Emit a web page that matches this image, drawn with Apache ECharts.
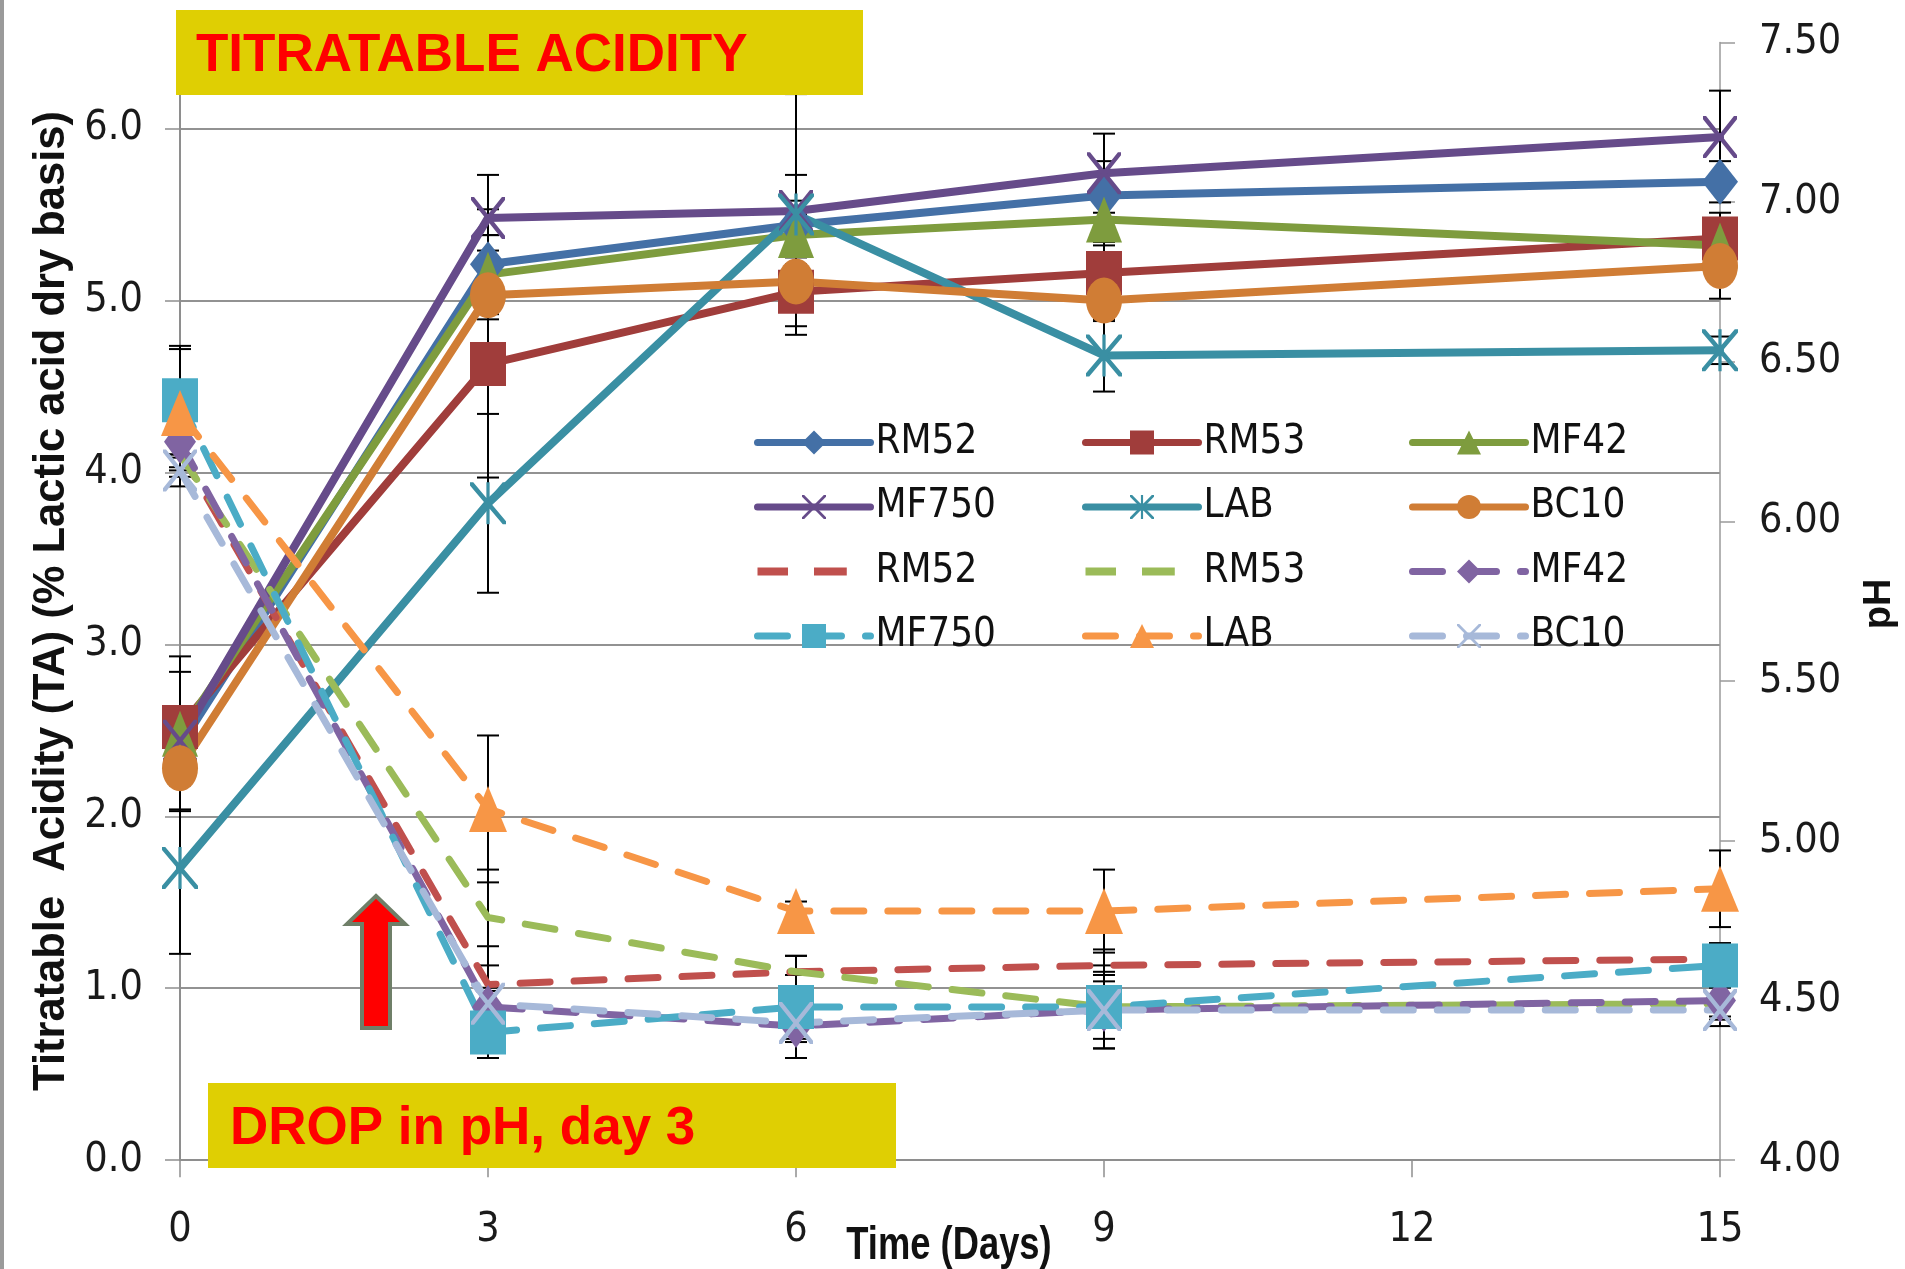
<!DOCTYPE html>
<html><head><meta charset="utf-8">
<script src="https://cdn.jsdelivr.net/npm/echarts@6/dist/echarts.min.js"></script>
<style>html,body{margin:0;padding:0;background:#fff}#c{width:1905px;height:1269px}</style>
</head><body><div id="c"></div>
<script>
// ---- data ----
const days = [0, 3, 6, 9, 15];
// Titratable acidity (% lactic acid, dry basis) - left axis
const taRM52  = [2.41, 5.21, 5.44, 5.61, 5.69];
const taRM53  = [2.52, 4.63, 5.05, 5.16, 5.36];
const taMF42  = [2.48, 5.15, 5.38, 5.47, 5.32];
const taMF750 = [2.44, 5.48, 5.52, 5.74, 5.95];
const taLAB   = [1.70, 3.82, 5.50, 4.68, 4.71];
const taBC10  = [2.28, 5.03, 5.11, 5.00, 5.20];
const taErrRM52  = [0.12, 0.32, 0.14, 0.20, 0.12];
const taErrRM53  = [0.12, 0.66, 0.20, 0.18, 0.15];
const taErrMF42  = [0.45, 0.23, 0.12, 0.15, 0.12];
const taErrMF750 = [0.40, 0.25, 0.21, 0.23, 0.27];
const taErrLAB   = [0.50, 0.52, 0.70, 0.21, 0.08];
const taErrBC10  = [0.10, 0.35, 0.10, 0.12, 0.19];
// pH - right axis
const phRM52  = [6.22, 4.55, 4.59, 4.61, 4.63];
const phRM53  = [6.21, 4.76, 4.59, 4.48, 4.49];
const phMF42  = [6.25, 4.48, 4.42, 4.47, 4.50];
const phMF750 = [6.38, 4.40, 4.48, 4.48, 4.61];
const phLAB   = [6.34, 5.10, 4.78, 4.78, 4.85];
const phBC10  = [6.16, 4.49, 4.43, 4.47, 4.47];
const phErrRM52  = [0.05, 0.12, 0.05, 0.05, 0.05];
const phErrRM53  = [0.05, 0.15, 0.05, 0.10, 0.05];
const phErrMF42  = [0.05, 0.05, 0.05, 0.12, 0.05];
const phErrMF750 = [0.17, 0.08, 0.10, 0.13, 0.05];
const phErrLAB   = [0.20, 0.23, 0.03, 0.13, 0.12];
const phErrBC10  = [0.05, 0.05, 0.11, 0.05, 0.05];

const xTickMax = 15, xTickStep = 3;
const taMin = 0, taMax = 6.5, taStep = 1;
const phMin = 4, phMax = 7.5, phStep = 0.5;

const phSuffix = ' (pH)';

// ---- styles ----
const NARROW = "'Liberation Sans Narrow', 'DejaVu Sans Condensed', 'Liberation Sans', sans-serif";
const X_PATH = 'path://M0,0 L9,0 L100,111 L100,120 L91,120 L0,9 Z M91,0 L100,0 L100,9 L9,120 L0,120 L0,111 Z';
const AST_PATH = 'path://M0,0 L9,0 L100,111 L100,120 L91,120 L0,9 Z M91,0 L100,0 L100,9 L9,120 L0,120 L0,111 Z M45.5,0 L54.5,0 L54.5,120 L45.5,120 Z';
const ELL_PATH = 'path://M0,60 A50,60 0 1,1 100,60 A50,60 0 1,1 0,60 Z';
const DASH_ICON = 'path://M0,0 L27,0 L27,7 L0,7 Z M50,0 L79,0 L79,7 L50,7 Z M100,0 L100,0.05 L99.95,0 Z';

const solidDefs = [
  {name:'RM52',  data:taRM52,  err:taErrRM52,  color:'#4470A6', symbol:'diamond', size:[36,46]},
  {name:'RM53',  data:taRM53,  err:taErrRM53,  color:'#A03D3B', symbol:'rect', size:[36,44]},
  {name:'MF42',  data:taMF42,  err:taErrMF42,  color:'#7E9C3E', symbol:'triangle', size:[36,46]},
  {name:'MF750', data:taMF750, err:taErrMF750, color:'#664B8A', symbol:X_PATH, size:[34,42]},
  {name:'LAB',   data:taLAB,   err:taErrLAB,   color:'#3A8FA3', symbol:AST_PATH, size:[36,42]},
  {name:'BC10',  data:taBC10,  err:taErrBC10,  color:'#D07D35', symbol:ELL_PATH, size:[36,46]}
];
const dashDefs = [
  {name:'RM52',  data:phRM52,  err:phErrRM52,  color:'#C0504D', symbol:'none', size:0},
  {name:'RM53',  data:phRM53,  err:phErrRM53,  color:'#9BBB59', symbol:'none', size:0},
  {name:'MF42',  data:phMF42,  err:phErrMF42,  color:'#8064A2', symbol:'diamond', size:[32,44]},
  {name:'MF750', data:phMF750, err:phErrMF750, color:'#4BACC6', symbol:'rect', size:[36,44]},
  {name:'LAB',   data:phLAB,   err:phErrLAB,   color:'#F79646', symbol:'triangle', size:[38,46]},
  {name:'BC10',  data:phBC10,  err:phErrBC10,  color:'#A7B9D9', symbol:X_PATH, size:[34,42]}
];

function pairs(vals){ return days.map((d,i)=>[d, vals[i]]); }
function errTriples(vals, errs){ return days.map((d,i)=>[d, vals[i], errs[i]]); }

function renderErr(params, api){
  const x = api.value(0), v = api.value(1), e = api.value(2);
  const t = api.coord([x, v + e]);
  const b = api.coord([x, v - e]);
  const hw = 11;
  const st = {stroke:'#000', lineWidth:2};
  return {type:'group', children:[
    {type:'line', shape:{x1:t[0], y1:t[1], x2:b[0], y2:b[1]}, style:st},
    {type:'line', shape:{x1:t[0]-hw, y1:t[1], x2:t[0]+hw, y2:t[1]}, style:st},
    {type:'line', shape:{x1:b[0]-hw, y1:b[1], x2:b[0]+hw, y2:b[1]}, style:st}
  ]};
}

const series = [];
solidDefs.concat(dashDefs).forEach((s, k) => {
  const isPh = k >= solidDefs.length;
  series.push({
    type:'custom', yAxisIndex: isPh ? 1 : 0, renderItem: renderErr,
    data: errTriples(s.data, s.err), z: 2, silent: true,
    encode:{x:0, y:1}
  });
});
solidDefs.forEach(s => {
  series.push({
    type:'line', name:s.name, yAxisIndex:0, data:pairs(s.data),
    symbol:s.symbol, symbolSize:s.size, showSymbol:true,
    lineStyle:{color:s.color, width:8, cap:'round', join:'round'},
    itemStyle:{color:s.color}, z:3, animation:false
  });
});
dashDefs.forEach(s => {
  series.push({
    type:'line', name:s.name + phSuffix, yAxisIndex:1, data:pairs(s.data),
    symbol:s.symbol, symbolSize:s.size, showSymbol: s.symbol !== 'none',
    lineStyle:{color:s.color, width:7, type:[30,24], cap:'round', join:'round'},
    itemStyle:{color:s.color}, z:4, animation:false
  });
});

const legendCols = [
  ['RM52', 'MF750', {name:'RM52' + phSuffix, icon:DASH_ICON}, 'MF750' + phSuffix],
  ['RM53', 'LAB', {name:'RM53' + phSuffix, icon:DASH_ICON}, 'LAB' + phSuffix],
  ['MF42', 'BC10', 'MF42' + phSuffix, 'BC10' + phSuffix]
];
const legendLeft = [754, 1082, 1409];

const axisGrey = '#8e8e8e';
const option = {
  animation:false,
  backgroundColor:'#fff',
  grid:{left:180, right:185, top:42.5, bottom:108.8, containLabel:false},
  xAxis:{
    type:'value', min:0, max:xTickMax, interval:xTickStep,
    axisLine:{show:true, onZero:false, lineStyle:{color:axisGrey, width:2}},
    axisTick:{show:true, length:17, lineStyle:{color:axisGrey, width:1.5}},
    axisLabel:{margin:50, fontSize:41, fontFamily:NARROW, color:'#1a1a1a'},
    splitLine:{show:false}
  },
  yAxis:[
    {
      type:'value', position:'left', min:taMin, max:taMax, interval:taStep,
      axisLine:{show:true, lineStyle:{color:axisGrey, width:2}},
      axisTick:{show:true, length:15, lineStyle:{color:axisGrey, width:1.5}},
      axisLabel:{margin:37, fontSize:41, fontFamily:NARROW, color:'#1a1a1a', showMaxLabel:false,
        formatter:v => v.toFixed(1)},
      splitLine:{show:true, showMaxLine:false, lineStyle:{color:'#929292', width:2}}
    },
    {
      type:'value', position:'right', min:phMin, max:phMax, interval:phStep,
      axisLine:{show:true, lineStyle:{color:'#9a9a9a', width:1.5}},
      axisTick:{show:true, length:15, lineStyle:{color:'#9a9a9a', width:1.5}},
      axisLabel:{margin:39, fontSize:41, fontFamily:NARROW, color:'#1a1a1a',
        formatter:v => v.toFixed(2)},
      splitLine:{show:false}
    }
  ],
  legend: legendCols.map((col, c) => ({
    orient:'vertical', left:legendLeft[c], top:422.5, padding:0,
    itemWidth:113, itemHeight:30, itemGap:24.5, selectedMode:false,
    lineStyle:{width:7},
    data: col, formatter: n => n.replace(phSuffix, ''),
    textStyle:{fontFamily:NARROW, fontSize:40, color:'#111', lineHeight:30}
  })),
  series: series,
  graphic:[
    {type:'rect', shape:{x:0, y:0, width:4, height:1269}, style:{fill:'#9a9a9a'}, z:100},
    {type:'rect', shape:{x:176, y:10, width:687, height:85}, style:{fill:'#DFCF03'}, z:100},
    {type:'text', x:196, y:56, z:101, style:{text:'TITRATABLE ACIDITY', fill:'#FF0000',
      font:"bold 53px 'Liberation Sans', Arial, sans-serif", align:'left', verticalAlign:'middle'}},
    {type:'rect', shape:{x:208, y:1083, width:688, height:85}, style:{fill:'#DFCF03'}, z:100},
    {type:'text', x:230, y:1129, z:101, style:{text:'DROP in pH, day 3', fill:'#FF0000',
      font:"bold 53px 'Liberation Sans', Arial, sans-serif", align:'left', verticalAlign:'middle'}},
    {type:'polygon', z:101, shape:{points:[[376,896],[405,924],[390,924],[390,1028],[362,1028],[362,924],[347,924]]},
      style:{fill:'#FF0000', stroke:'#6F7F68', lineWidth:4, lineJoin:'miter'}},
    {type:'text', x:52, y:601, rotation:Math.PI/2, z:101, style:{text:'Titratable  Acidity (TA) (% Lactic acid dry basis)',
      fill:'#111', font:"bold 43.5px 'Liberation Sans', Arial, sans-serif", align:'center', verticalAlign:'middle'}},
    {type:'text', x:949, y:1246, scaleX:0.79, z:101, style:{text:'Time (Days)',
      fill:'#111', font:"bold 46px 'Liberation Sans', Arial, sans-serif", align:'center', verticalAlign:'middle'}},
    {type:'text', x:1880, y:604, rotation:Math.PI/2, z:101, style:{text:'pH',
      fill:'#111', font:"bold 38px 'Liberation Sans', Arial, sans-serif", align:'center', verticalAlign:'middle'}}
  ]
};
const chart = echarts.init(document.getElementById('c'), null, {renderer:'canvas'});
chart.setOption(option);
</script></body></html>
